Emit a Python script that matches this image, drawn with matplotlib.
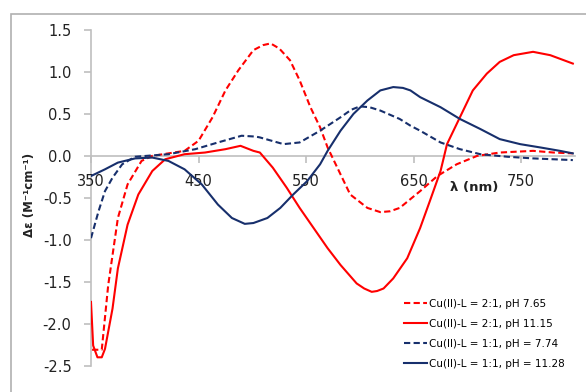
import numpy as np
import matplotlib
matplotlib.use('Agg')
from matplotlib import pyplot as plt
from matplotlib.patches import Rectangle

# CD spectra of the Cu(II)-L system
wl_21_765 = [351, 360, 366, 375, 384, 397, 407, 437, 450, 463, 475, 487, 501, 510,
             517, 525, 535, 544, 554, 563, 570, 579, 591, 607, 619, 628, 637, 656,
             672, 690, 709, 730, 761, 780, 798]
de_21_765 = [-2.31, -2.31, -1.54, -0.74, -0.34, -0.06, 0.0, 0.06, 0.18, 0.46, 0.78,
             1.02, 1.26, 1.32, 1.34, 1.28, 1.14, 0.90, 0.58, 0.34, 0.10, -0.14, -0.46,
             -0.62, -0.67, -0.66, -0.62, -0.42, -0.24, -0.10, 0.0, 0.04, 0.06, 0.04,
             0.03]

wl_21_1115 = [350, 352, 356, 360, 363, 370, 375, 384, 394, 407, 419, 437, 456, 475,
              489, 501, 507, 519, 532, 544, 557, 570, 582, 597, 604, 611, 616, 622,
              631, 644, 656, 665, 675, 681, 693, 705, 718, 730, 743, 761, 777, 798]
de_21_1115 = [-1.74, -2.26, -2.40, -2.40, -2.30, -1.82, -1.34, -0.82, -0.46, -0.18,
              -0.04, 0.02, 0.04, 0.08, 0.12, 0.06, 0.04, -0.14, -0.38, -0.62, -0.86,
              -1.10, -1.30, -1.52, -1.58, -1.62, -1.61, -1.58, -1.46, -1.22, -0.86,
              -0.54, -0.18, 0.14, 0.46, 0.78, 0.98, 1.12, 1.20, 1.24, 1.20, 1.10]

wl_11_774 = [350, 357, 363, 370, 379, 391, 422, 447, 468, 490, 503, 507, 529, 544,
             563, 582, 592, 600, 609, 619, 637, 647, 656, 675, 693, 712, 737, 761, 798]
de_11_774 = [-0.98, -0.66, -0.42, -0.26, -0.10, -0.01, 0.02, 0.08, 0.16, 0.24, 0.23,
             0.22, 0.14, 0.16, 0.30, 0.46, 0.55, 0.59, 0.58, 0.54, 0.44, 0.36, 0.30,
             0.16, 0.08, 0.02, -0.01, -0.03, -0.05]

wl_11_1128 = [350, 363, 375, 391, 407, 422, 437, 453, 468, 481, 493, 501, 514, 526,
              538, 551, 563, 570, 582, 594, 607, 619, 631, 640, 647, 656, 675, 693,
              712, 730, 749, 768, 786, 798]
de_11_1128 = [-0.24, -0.16, -0.08, -0.03, -0.02, -0.06, -0.16, -0.34, -0.58, -0.74,
              -0.81, -0.80, -0.74, -0.62, -0.46, -0.30, -0.10, 0.06, 0.30, 0.50, 0.66,
              0.78, 0.82, 0.81, 0.78, 0.70, 0.58, 0.44, 0.32, 0.20, 0.14, 0.10, 0.06,
              0.03]

labels = ['Cu(II)-L = 2:1, pH 7.65', 'Cu(II)-L = 2:1, pH 11.15',
          'Cu(II)-L = 1:1, pH = 7.74', 'Cu(II)-L = 1:1, pH = 11.28']

red = '#FF0000'
navy = '#172F6C'
grey = '#BFBFBF'

W, H = 586, 392
fig = plt.figure(figsize=(W / 100, H / 100), dpi=100)
ax = fig.add_axes([91 / W, 1 - 365.7 / H, (575 - 91) / W, (365.7 - 30) / H])

# chart area border
fig.patches.append(Rectangle((11 / W, -0.1), 1.2, 1 - 14 / H + 0.1,
                             transform=fig.transFigure, fill=False,
                             edgecolor='#B0B0B0', lw=1.2))

ax.plot(wl_21_765, de_21_765, color=red, ls=(0, (3, 1.6)), lw=1.5, label=labels[0])
ax.plot(wl_21_1115, de_21_1115, color=red, ls='-', lw=1.5, label=labels[1])
ax.plot(wl_11_774, de_11_774, color=navy, ls=(0, (3, 1.6)), lw=1.5, label=labels[2])
ax.plot(wl_11_1128, de_11_1128, color=navy, ls='-', lw=1.5, label=labels[3])

ax.set_xlim(350, 800)
ax.set_ylim(-2.5, 1.5)
ax.set_xticks([350, 450, 550, 650, 750])
ax.set_yticks(np.arange(-2.5, 1.51, 0.5))
ax.yaxis.set_major_formatter(matplotlib.ticker.FormatStrFormatter('%.1f'))

for s in ['top', 'right']:
    ax.spines[s].set_visible(False)
ax.spines['bottom'].set_position(('data', 0))
ax.spines['left'].set_bounds(-2.5, 1.5)
for s in ['bottom', 'left']:
    ax.spines[s].set_color(grey)
    ax.spines[s].set_linewidth(1.2)
    ax.spines[s].set_zorder(0)

ax.tick_params(axis='y', direction='out', length=5, width=1.2, color=grey,
               pad=9, labelsize=10.5, labelcolor='#222222')
ax.tick_params(axis='x', direction='out', length=5, width=1.2, color=grey,
               pad=8, labelsize=10.5, labelcolor='#222222')

ax.text(706, -0.38, 'λ (nm)', fontsize=9.5, fontweight='bold', ha='center',
        va='center', color='#222222')
fig.text(30 / W, 1 - 195 / H, 'Δε (M⁻¹cm⁻¹)', rotation=90, fontsize=8.5,
         fontweight='bold', ha='center', va='center', color='#222222')

ax.legend(loc='upper left', bbox_to_anchor=(404 / W, 1 - 299 / H),
          bbox_transform=fig.transFigure, frameon=False, fontsize=7.5,
          handlelength=2.2, handletextpad=0.2, labelspacing=0.95,
          borderaxespad=0, borderpad=0)

fig.savefig('out.png', dpi=100)
